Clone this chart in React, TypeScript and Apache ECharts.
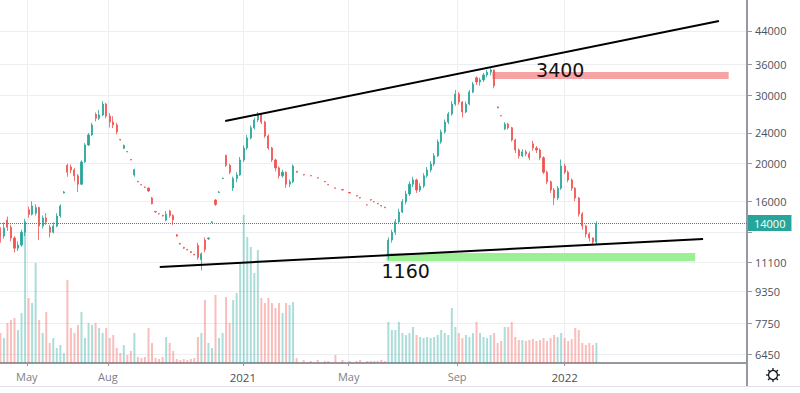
import { useEffect, useRef } from 'react';
import * as echarts from 'echarts';

// ---------- data (4-day candles, prices in KRW) ----------
const DATES = [
  '2020-04-01','2020-04-05','2020-04-09','2020-04-13','2020-04-17','2020-04-21','2020-04-25','2020-04-29',
  '2020-05-03','2020-05-07','2020-05-11','2020-05-15','2020-05-19','2020-05-23','2020-05-27','2020-05-31',
  '2020-06-04','2020-06-08','2020-06-12','2020-06-16','2020-06-20','2020-06-24','2020-06-28',
  '2020-07-02','2020-07-06','2020-07-10','2020-07-14','2020-07-18','2020-07-22','2020-07-26','2020-07-30',
  '2020-08-03','2020-08-07','2020-08-11','2020-08-15','2020-08-19','2020-08-23','2020-08-27','2020-08-31',
  '2020-09-04','2020-09-08','2020-09-12','2020-09-16','2020-09-20','2020-09-24','2020-09-28',
  '2020-10-02','2020-10-06','2020-10-10','2020-10-14','2020-10-18','2020-10-22','2020-10-26','2020-10-30',
  '2020-11-03','2020-11-07','2020-11-11','2020-11-15','2020-11-19','2020-11-23','2020-11-27',
  '2020-12-01','2020-12-05','2020-12-09','2020-12-13','2020-12-17','2020-12-21','2020-12-25','2020-12-29',
  '2021-01-02','2021-01-06','2021-01-10','2021-01-14','2021-01-18','2021-01-22','2021-01-26','2021-01-30',
  '2021-02-03','2021-02-07','2021-02-11','2021-02-15','2021-02-19','2021-02-23','2021-02-27',
  '2021-03-03','2021-03-11','2021-03-19','2021-03-27','2021-04-04','2021-04-08','2021-04-16','2021-04-24',
  '2021-05-02','2021-05-10','2021-05-14','2021-05-22','2021-05-26','2021-05-30','2021-06-03','2021-06-07','2021-06-11',
  '2021-06-15','2021-06-19','2021-06-23','2021-06-27','2021-07-01','2021-07-05','2021-07-09','2021-07-13',
  '2021-07-17','2021-07-21','2021-07-25','2021-07-29','2021-08-02','2021-08-06','2021-08-10','2021-08-14',
  '2021-08-18','2021-08-22','2021-08-26','2021-08-30','2021-09-03','2021-09-07','2021-09-11','2021-09-15',
  '2021-09-19','2021-09-23','2021-09-27','2021-10-01','2021-10-05','2021-10-09','2021-10-13','2021-10-17',
  '2021-10-21','2021-10-25','2021-10-29','2021-11-02','2021-11-06','2021-11-10','2021-11-14','2021-11-18',
  '2021-11-22','2021-11-26','2021-11-30','2021-12-04','2021-12-08','2021-12-12','2021-12-16','2021-12-20',
  '2021-12-24','2021-12-28','2022-01-01','2022-01-05','2022-01-09','2022-01-13','2022-01-17','2022-01-21',
  '2022-01-25','2022-01-29','2022-02-02','2022-02-06',
];

// [open, close, low, high]
const OHLC: number[][] = [
  [13400,13000,12500,13700],[13000,13650,12800,14100],[14300,13700,13400,14600],[13700,12850,12600,13900],
  [12850,12100,11800,13000],[12100,12330,11900,12600],[12330,13300,12200,13500],[13300,14150,13000,14400],
  [15200,14800,14500,15500],[14800,15550,14700,16000],[14900,15400,14700,15700],[15400,13800,12700,15500],
  [13800,14480,13600,14700],[14480,14150,13900,14900],[13700,13300,12900,13900],[13300,13800,13200,14100],
  [13800,14650,13700,14900],[14650,15550,14500,15700],[16800,16900,16750,17000],[19800,19000,18500,20000],
  [19600,19260,18900,19900],[19260,18600,18000,19500],[18600,17700,16900,18800],
  [17700,20200,17600,20400],[20200,22350,20100,22600],[22350,23720,22200,24000],[23720,25170,23600,25500],
  [26800,26200,25700,27100],[26200,26710,25900,27500],[26710,28500,26500,29000],[28500,26550,26200,28700],
  [26550,25600,24800,27000],[25600,25170,24700,26500],[25170,24150,23800,25500],[23100,23020,22950,23150],
  [21900,22300,21800,22400],[21500,21450,21400,21550],[20500,20440,20400,20550],[18700,19300,18500,19400],
  [18000,17950,17900,18050],[17650,17620,17600,17700],[17400,17380,17350,17450],[17300,17000,16900,17350],
  [16300,15750,15700,16400],[15050,15000,14950,15100],[14850,14830,14800,14900],
  [14700,14650,14600,14750],[14300,14800,14200,15100],[15100,14700,14500,15200],[14700,14310,13900,14800],
  [13100,13000,12950,13150],[12450,12400,12350,12450],[12150,12100,12050,12200],[12000,11970,11950,12050],
  [11850,11800,11750,11900],[11650,11620,11600,11700],[12300,11450,11300,12500],[11300,11700,10600,11800],
  [12700,12000,11800,12900],[12800,12850,12700,12900],[14100,14150,14050,14200],
  [16100,15700,15550,16200],[16850,16900,16800,17000],[18300,18350,18250,18400],[21000,19800,19600,21100],
  [19800,19000,18800,20000],[17300,18300,17000,18500],[18300,18700,17900,19000],[18700,20440,18600,20800],
  [20440,21950,20200,22300],[21950,23300,21700,23700],[23300,24750,23100,25100],[24750,25930,24500,26300],
  [25930,26870,25600,27200],[26870,25600,25300,27000],[25600,23580,23300,25800],[23580,21950,21700,23800],
  [21950,20440,20200,22100],[20440,19500,19100,20600],[19500,18600,18300,19700],[18600,19000,18400,19300],
  [19000,17700,17300,19100],[17700,17950,17400,18200],[17950,19720,17800,19900],
  [19100,19000,18950,19150],[18750,18700,18650,18750],[18650,18600,18550,18650],[18400,18350,18300,18400],
  [18000,17950,17900,18000],[17650,17620,17600,17700],[17300,17280,17250,17350],[17150,17100,17050,17150],
  [16850,16800,16750,16850],[16550,16500,16450,16550],[16350,16300,16250,16350],[15650,15640,15600,15700],
  [16150,16110,16050,16150],[15950,15950,15900,16000],[15800,15750,15700,15800],[15600,15550,15500,15600],
  [15450,15400,15350,15450],
  [11600,12700,11300,12900],[12700,13300,12500,13500],[13300,14150,13100,14400],[14150,15000,14000,15300],
  [15000,15950,14900,16200],[15950,16700,15700,17000],[16700,17700,16500,18000],[17700,18150,17400,18500],
  [18150,17100,16800,18300],[17100,17500,16900,17800],[17500,18600,17300,18900],[18600,19260,18400,19600],
  [19260,19950,19000,20300],[19950,20950,19700,21300],[20950,22750,20800,23100],[22750,24150,22500,24500],
  [24150,25600,23900,26000],[25600,26870,25300,27200],[26870,28500,26600,29000],[28500,30250,28200,31000],
  [30250,28850,28400,30600],[28850,27200,26300,29000],[27200,28500,27000,28900],[28500,30600,28300,31000],
  [30600,32100,30400,32500],[33300,32500,31900,33600],[32500,32900,31800,33300],[32900,33880,32500,34300],
  [33880,34450,33400,34900],[34450,34900,33800,35300],[34900,31750,31300,35000],[28000,27850,27800,28100],
  [26600,26550,26500,26650],[24600,25300,24400,25600],[25300,24750,24500,25500],[24750,23020,22800,24900],
  [23020,21690,21300,23200],[21690,20950,20600,21900],[20950,21450,20800,21800],[21450,21200,20900,21700],
  [21200,20700,20400,21500],[22500,21950,21600,22900],[21950,21690,21300,22200],[21690,20700,20400,21900],
  [20700,19000,18800,20900],[19000,17950,17700,19200],[17950,17100,16800,18100],[17100,16300,15640,17300],
  [16300,17280,16100,17500],[17280,19720,17100,20500],[19720,19000,18800,20000],[19000,18150,17900,19200],
  [18150,17280,17000,18300],[17280,16300,16000,17400],[16300,14830,14600,16400],[14830,13800,13500,15000],
  [13800,13170,12900,13900],[13170,12850,12600,13300],[12850,12550,12300,12900],[12550,14000,12400,14200],
];

// volume, thousand shares
const VOLUME = [
  300,250,400,430,450,330,500,1380,650,600,1000,430,300,510,200,250,
  150,180,100,830,350,300,380,
  510,250,400,380,400,350,300,350,
  250,280,150,100,180,80,120,300,
  60,50,60,350,200,50,40,
  60,260,200,120,40,30,40,30,
  40,50,260,300,630,200,150,
  680,250,300,660,400,630,700,1000,
  1480,1260,1160,900,1130,650,600,650,
  600,550,600,500,600,580,610,
  50,30,20,30,20,20,80,30,
  20,20,30,20,20,20,20,30,20,
  410,330,330,410,300,280,300,360,
  280,260,250,260,250,260,280,330,
  300,280,550,360,300,250,280,260,
  300,410,300,260,250,280,300,200,
  220,360,360,410,260,230,230,220,
  230,240,220,230,250,220,250,280,
  260,300,250,220,240,350,330,200,
  180,200,180,200,
];

// gridline levels (13300 sits under the last-price badge, so it has no visible label)
const PRICE_GRID = [44000, 36000, 30000, 24000, 20000, 16000, 13300, 11100, 9350, 7750, 6450];
const PRICE_LABELS = [44000, 36000, 30000, 24000, 20000, 16000, 11100, 9350, 7750, 6450];
const PRICE_MIN = 6114;
const PRICE_MAX = 52900;
const VOLUME_MAX = 3630;
const LAST_PRICE = 14000;

const TIME_TICKS = ['2020-05-01', '2020-08-01', '2021-01-01', '2021-05-01', '2021-09-01', '2022-01-01'];
const TIME_LABELS = ['May', 'Aug', '2021', 'May', 'Sep', '2022'];
const AXIS_START = '2020-03-31T14:00:00';
const AXIS_END = '2022-07-26T19:00:00';

const UPPER_TREND = [['2020-12-12T00:00:00', 25770], ['2022-06-25T00:00:00', 46710]];
const LOWER_TREND = [['2020-09-28T19:00:00', 10820], ['2022-06-07T00:00:00', 12780]];

const RESIST_ZONE = { from: '2021-10-11', to: '2022-07-06', low: 33100, high: 34500 };
const SUPPORT_ZONE = { from: '2021-06-13', to: '2022-05-29', low: 11200, high: 11750 };
const NOTES = [
  { text: '3400', date: '2021-12-27T00:00:00', price: 34900 },
  { text: '1160', date: '2021-07-04T17:00:00', price: 10565 },
];

const UP = '#26a69a';
const DOWN = '#ef5350';
const UP_VOL = 'rgba(38,166,154,0.38)';
const DOWN_VOL = 'rgba(239,83,80,0.38)';
const GRID = '#eceef2';
const AXIS = '#9598a1';

const ts = (s: string) => new Date(s.length === 10 ? s + 'T00:00:00' : s).getTime();
const ln = Math.log;

export default function App() {
  const ref = useRef<HTMLDivElement>(null);

  useEffect(() => {
    if (!ref.current) return;
    const chart = echarts.init(ref.current, null, { renderer: 'svg' });

    const candleData = DATES.map((d, i) => {
      const [o, c, l, h] = OHLC[i];
      return [ts(d), ln(o), ln(c), ln(l), ln(h)];
    });
    const volData = DATES.map((d, i) => ({
      value: [ts(d), VOLUME[i]],
      itemStyle: { color: OHLC[i][1] >= OHLC[i][0] ? UP_VOL : DOWN_VOL },
    }));
    const timeTickTs = TIME_TICKS.map(ts);

    const gearTeeth: any[] = [];
    for (let k = 0; k < 8; k++) {
      const a = (k * Math.PI) / 4;
      gearTeeth.push({
        type: 'line',
        shape: { x1: Math.cos(a) * 4.5, y1: Math.sin(a) * 4.5, x2: Math.cos(a) * 7, y2: Math.sin(a) * 7 },
        style: { stroke: '#131722', lineWidth: 1.3 },
      });
    }

    const option: any = {
      animation: false,
      backgroundColor: '#ffffff',
      grid: { left: 0, right: 53, top: 0, bottom: 30, containLabel: false, outerBoundsMode: 'none' },
      xAxis: {
        type: 'value',
        min: ts(AXIS_START),
        max: ts(AXIS_END),
        axisLine: { show: true, lineStyle: { color: AXIS, width: 2 } },
        axisTick: { show: true, length: 3, customValues: timeTickTs, lineStyle: { color: AXIS } },
        axisLabel: {
          customValues: timeTickTs,
          margin: 8,
          fontFamily: 'Open Sans',
          fontSize: 11,
          formatter: (v: number) => {
            let best = 0;
            timeTickTs.forEach((t, i) => { if (Math.abs(t - v) < Math.abs(timeTickTs[best] - v)) best = i; });
            const lab = TIME_LABELS[best];
            return /^\d+$/.test(lab) ? `{y|${lab}}` : `{m|${lab}}`;
          },
          rich: {
            y: { color: '#4a4e58', fontSize: 11.5, fontFamily: 'Open Sans' },
            m: { color: '#7d808a', fontSize: 11, fontFamily: 'Open Sans' },
          },
        },
        splitLine: { show: true, lineStyle: { color: GRID, width: 1 } },
      },
      yAxis: [
        {
          type: 'value',
          position: 'right',
          min: ln(PRICE_MIN),
          max: ln(PRICE_MAX),
          axisLine: { show: true, lineStyle: { color: AXIS, width: 2 } },
          axisTick: { show: true, length: 5, customValues: PRICE_GRID.map(ln), lineStyle: { color: AXIS } },
          axisLabel: {
            customValues: PRICE_LABELS.map(ln),
            margin: 8,
            color: '#4c525e',
            fontFamily: 'Open Sans',
            fontSize: 11,
            formatter: (v: number) => String(Math.round(Math.exp(v))),
          },
          splitLine: { show: true, lineStyle: { color: GRID, width: 1 } },
        },
        {
          type: 'value',
          min: 0,
          max: VOLUME_MAX,
          show: false,
          splitLine: { show: false },
        },
      ],
      series: [
        {
          type: 'bar',
          name: 'volume',
          xAxisIndex: 0,
          yAxisIndex: 1,
          barWidth: 2,
          z: 1,
          data: volData,
        },
        {
          type: 'candlestick',
          name: 'price',
          xAxisIndex: 0,
          yAxisIndex: 0,
          barWidth: 1.6,
          z: 3,
          encode: { x: 0, y: [1, 2, 3, 4] },
          itemStyle: { color: UP, color0: DOWN, borderColor: UP, borderColor0: DOWN, borderWidth: 0.8 },
          data: candleData,
          markArea: {
            silent: true,
            data: [
              [
                { coord: [ts(RESIST_ZONE.from), ln(RESIST_ZONE.high)], itemStyle: { color: '#f7a3a3', opacity: 1 } },
                { coord: [ts(RESIST_ZONE.to), ln(RESIST_ZONE.low)] },
              ],
              [
                { coord: [ts(SUPPORT_ZONE.from), ln(SUPPORT_ZONE.high)], itemStyle: { color: '#9cef94', opacity: 1 } },
                { coord: [ts(SUPPORT_ZONE.to), ln(SUPPORT_ZONE.low)] },
              ],
            ],
          },
          markLine: {
            silent: true,
            symbol: ['none', 'none'],
            z: 10,
            data: [
              {
                yAxis: ln(LAST_PRICE),
                lineStyle: { type: 'dotted', color: '#2a8f89', width: 1 },
                label: {
                  show: true,
                  position: 'end',
                  distance: 1,
                  formatter: String(LAST_PRICE),
                  backgroundColor: UP,
                  color: '#ffffff',
                  fontFamily: 'Open Sans',
                  fontSize: 11,
                  padding: [3, 6, 2, 6],
                },
              },
              [
                { coord: [ts(UPPER_TREND[0][0] as string), ln(UPPER_TREND[0][1] as number)], lineStyle: { color: '#000', width: 2, type: 'solid' }, label: { show: false } },
                { coord: [ts(UPPER_TREND[1][0] as string), ln(UPPER_TREND[1][1] as number)] },
              ],
              [
                { coord: [ts(LOWER_TREND[0][0] as string), ln(LOWER_TREND[0][1] as number)], lineStyle: { color: '#000', width: 2, type: 'solid' }, label: { show: false } },
                { coord: [ts(LOWER_TREND[1][0] as string), ln(LOWER_TREND[1][1] as number)] },
              ],
            ],
          },
          markPoint: {
            silent: true,
            data: NOTES.map((n) => ({
              coord: [ts(n.date), ln(n.price)],
              symbol: 'rect',
              symbolSize: 1,
              itemStyle: { color: 'rgba(0,0,0,0)' },
              label: {
                show: true,
                position: 'inside',
                formatter: n.text,
                fontFamily: 'DejaVu Sans',
                fontSize: 19,
                color: '#131313',
              },
            })),
          },
        },
      ],
      graphic: [
        { type: 'line', shape: { x1: 747, y1: 363, x2: 747, y2: 387 }, style: { stroke: AXIS, lineWidth: 2 }, silent: true },
        { type: 'line', shape: { x1: 0, y1: 386.5, x2: 800, y2: 386.5 }, style: { stroke: '#e0e3eb', lineWidth: 1 }, silent: true },
        {
          type: 'group',
          x: 773,
          y: 375,
          silent: true,
          children: [
            { type: 'circle', shape: { cx: 0, cy: 0, r: 4.5 }, style: { fill: 'none', stroke: '#131722', lineWidth: 1.3 } },
            ...gearTeeth,
          ],
        },
      ],
    };

    chart.setOption(option);
    return () => chart.dispose();
  }, []);

  return (
    <div
      ref={ref}
      style={{ position: 'absolute', left: 0, top: 0, width: 800, height: 393, background: '#fff' }}
    />
  );
}
